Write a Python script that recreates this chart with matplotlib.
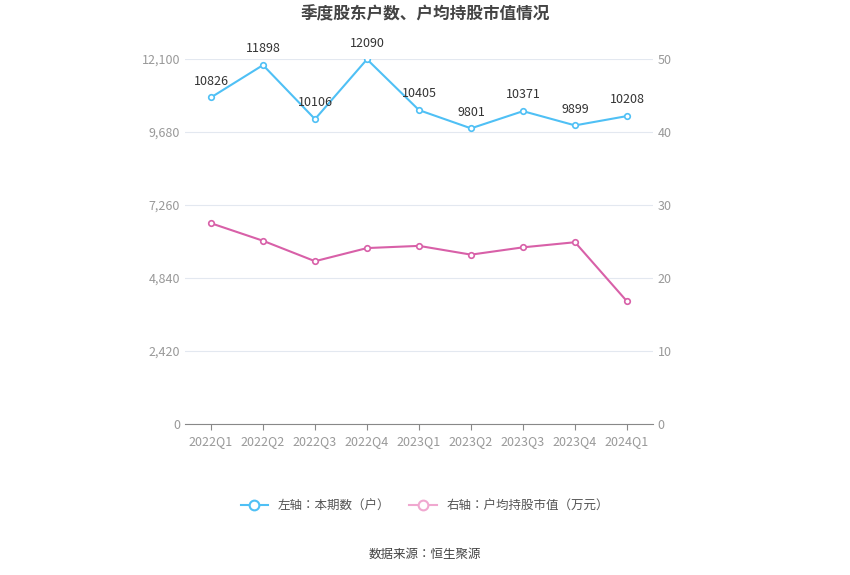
import glob
import matplotlib.pyplot as plt
from matplotlib import font_manager
from matplotlib.lines import Line2D

# make sure a CJK font gets registered
for f in glob.glob('/usr/share/fonts/**/*CJK*', recursive=True):
    try:
        font_manager.fontManager.addfont(f)
    except Exception:
        pass
cjk = [f.name for f in font_manager.fontManager.ttflist if 'CJK' in f.name]
plt.rcParams['font.family'] = (['Noto Sans CJK SC'] if 'Noto Sans CJK SC' in cjk else cjk[:1]) + ['DejaVu Sans']

quarters = ['2022Q1', '2022Q2', '2022Q3', '2022Q4', '2023Q1', '2023Q2', '2023Q3', '2023Q4', '2024Q1']
holders = [10826, 11898, 10106, 12090, 10405, 9801, 10371, 9899, 10208]
avg_value = [27.5, 25.1, 22.3, 24.1, 24.4, 23.2, 24.2, 24.9, 16.8]

blue = '#4fc0f5'
pink = '#d860a8'
grey = '#999999'

fig = plt.figure(figsize=(8.5, 5.75), dpi=100)
ax = fig.add_axes([185/850, 1-424/575, 468/850, 365/575])
ax2 = ax.twinx()

x = range(len(quarters))
ax.plot(x, holders, color=blue, lw=1.5, marker='o', ms=4, mfc='white', mew=1.2, zorder=3)
for i, v in enumerate(holders):
    ax.annotate(str(v), (i, v), xytext=(0, 7), textcoords='offset points',
                ha='center', va='bottom', fontsize=9, color='#333333')
ax2.plot(x, avg_value, color=pink, lw=1.5, marker='o', ms=4, mfc='white', mew=1.2)

ax.set_xlim(-0.5, len(quarters) - 0.5)
ax.set_ylim(0, 12100)
ax2.set_ylim(0, 50)
ax.set_yticks([0, 2420, 4840, 7260, 9680, 12100])
ax.set_yticklabels(['0', '2,420', '4,840', '7,260', '9,680', '12,100'])
ax2.set_yticks([0, 10, 20, 30, 40, 50])
ax.set_xticks(list(x))
ax.set_xticklabels(quarters)
ax.grid(axis='y', color='#e3e8f0', lw=0.8)
ax.set_axisbelow(True)

for a in (ax, ax2):
    for s in a.spines.values():
        s.set_visible(False)
    a.tick_params(colors=grey, labelsize=9, length=0)
ax.spines['bottom'].set_visible(True)
ax.spines['bottom'].set_color('#888888')
ax.tick_params(axis='x', length=4, color='#888888', pad=4)

fig.text(0.5, 1-14/575, '季度股东户数、户均持股市值情况', ha='center', va='center',
         fontsize=12, fontweight='bold', color='#444444')

handles = [Line2D([], [], color=blue, marker='o', mfc='white', ms=7, mew=1.5, lw=1.5),
           Line2D([], [], color='#f0a8d0', marker='o', mfc='white', ms=7, mew=1.5, lw=1.5)]
fig.legend(handles, ['左轴：本期数（户）', '右轴：户均持股市值（万元）'], loc='center',
           bbox_to_anchor=(0.5, 1-506/575), ncol=2, frameon=False, fontsize=9,
           labelcolor='#555555', handlelength=2.2, columnspacing=1.5)
fig.text(0.5, 1-554/575, '数据来源：恒生聚源', ha='center', va='center', fontsize=9, color='#444444')

fig.savefig('out.png', dpi=100)
